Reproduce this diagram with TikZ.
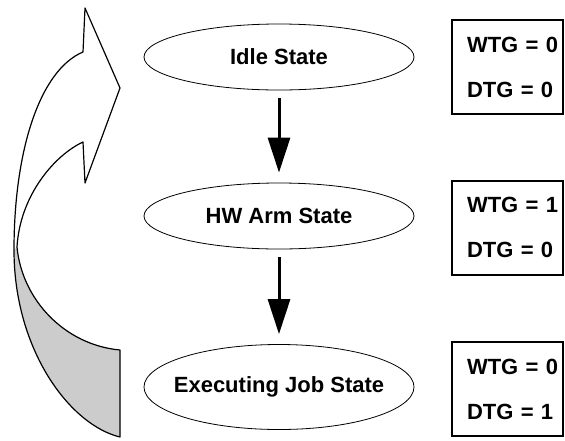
\documentclass[tikz,border=0pt]{standalone}
\usepackage{fontspec}
\setmainfont{Liberation Sans}
\usetikzlibrary{arrows.meta, shapes.geometric}

\begin{document}
\begin{tikzpicture}[x=1pt, y=-1pt, >={Triangle[length=35pt, width=22pt]},
  state/.style={draw, ellipse, line width=0.8pt, inner xsep=-12pt, inner ysep=0pt,
    minimum width=270pt, minimum height=66pt, font=\fontsize{22}{26}\selectfont\bfseries},
  flags/.style={draw, line width=2pt, text width=81pt, inner xsep=15pt, inner ysep=0pt,
    minimum height=94pt, align=left, font=\fontsize{22}{45}\selectfont\bfseries},
  flow/.style={->, line width=3pt, shorten <=8pt, shorten >=10pt}]
  \useasboundingbox (0,0) rectangle (565,440);
  % loop back arrow
  \fill[gray!40] (17,247) .. controls (22,300) and (65,345) .. (120,350) -- (120,437)
    .. controls (70,425) and (14,350) .. (14,250) -- cycle;
  \draw[line width=1.2pt, line join=round] (83,52) -- (85,8) -- (120,88) -- (85,183) -- (83,142)
    .. controls (55,155) and (20,195) .. (17,247)
    .. controls (22,300) and (65,345) .. (120,350) -- (120,437)
    .. controls (70,425) and (14,350) .. (14,250)
    .. controls (14,150) and (40,70) .. (83,52);
  % states
  \node[state] (idle) at (279,57) {Idle State};
  \node[state] (arm) at (279,216) {HW Arm State};
  \node[state, minimum height=85pt] (exec) at (279,387) {Executing Job State};
  \draw[flow] (idle) -- (arm);
  \draw[flow] (arm) -- (exec);
  % flag values
  \node[flags] (idleflags) at (507.5,67) {\mbox{WTG = 0}\\\mbox{DTG = 0}};
  \node[flags] (armflags) at (507.5,227.5) {\mbox{WTG = 1}\\\mbox{DTG = 0}};
  \node[flags] (execflags) at (507.5,389) {\mbox{WTG = 0}\\\mbox{DTG = 1}};
\end{tikzpicture}
\end{document}
